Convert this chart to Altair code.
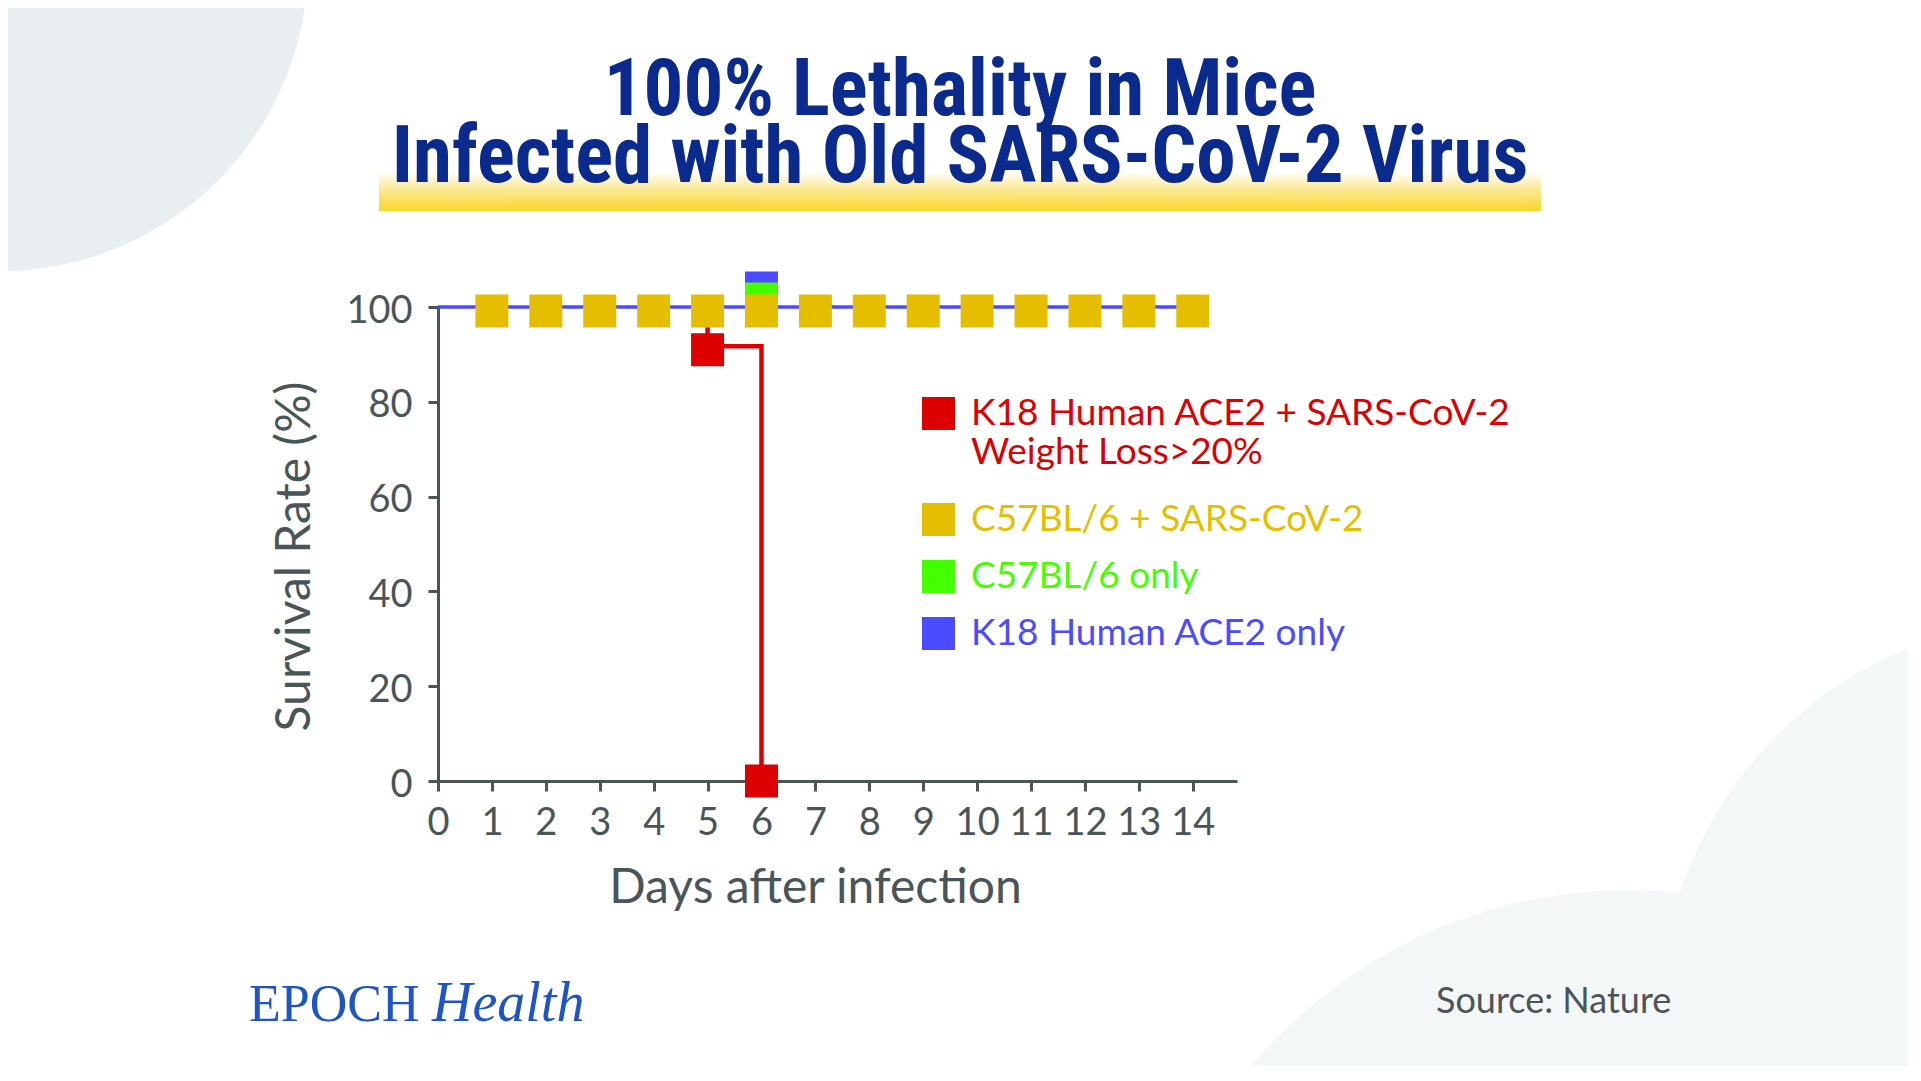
import altair as alt
import pandas as pd

# ---------------- data ----------------
TITLE_LINES = ["100% Lethality in Mice", "Infected with Old SARS-CoV-2 Virus"]
X_TITLE = "Days after infection"
Y_TITLE = "Survival Rate (%)"
SOURCE = "Source: Nature"
BRAND = ["EPOCH", "Health"]

RED_NAME_LINES = ["K18 Human ACE2 + SARS-CoV-2", "Weight Loss>20%"]
SERIES = [" ".join(RED_NAME_LINES), "C57BL/6 + SARS-CoV-2", "C57BL/6 only", "K18 Human ACE2 only"]
COLORS = ["#DC0000", "#E6BE00", "#44FF00", "#4B4BFF"]

X_TICKS = list(range(0, 15))
Y_TICKS = [0, 20, 40, 60, 80, 100]

# C57BL/6 + SARS-CoV-2 (survival markers)
YEL_DAYS = [1, 2, 3, 4, 5, 6, 7, 8, 9, 10, 11, 12, 13, 14]
YEL_VALS = [100, 100, 100, 100, 100, 100, 100, 100, 100, 100, 100, 100, 100, 100]
# K18 Human ACE2 + SARS-CoV-2
RED_DAYS = [5, 6]
RED_VALS = [91, 0]
RED_STEP_DAYS = [5, 5, 6, 6]
RED_STEP_VALS = [100, 91.7, 91.7, 0]
# C57BL/6 only
GREEN_DAYS = [6]
GREEN_VALS = [100]
# K18 Human ACE2 only
BLUE_DAYS = [6]
BLUE_VALS = [100]
BLUE_LINE_DAYS = [0, 14]
BLUE_LINE_VALS = [100, 100]

# ---------------- styles ----------------
AXIS_COLOR = "#4A5558"
NAVY = "#0B2A8E"
FONT = "Lato"
W, H = 799, 474

xs = alt.Scale(domain=[0, 14.82], nice=False, zero=False)
ys = alt.Scale(domain=[0, 100], nice=False)

legend_common = dict(
    title=None, orient="none", symbolType="square", symbolSize=1089, symbolStrokeWidth=0,
    symbolOpacity=1, labelFont=FONT, labelFontSize=37, labelOffset=14, rowPadding=19,
    labelLimit=1000,
)
label_expr = ("datum.value == '%s' ? ['%s', '%s'] : datum.label"
              % (SERIES[0], RED_NAME_LINES[0], RED_NAME_LINES[1]))
legend_a = alt.Legend(legendX=482, legendY=88, labelExpr=label_expr, labelColor=COLORS[0], **legend_common)
color_expr = " : ".join("datum.value == '%s' ? '%s'" % (s, c) for s, c in zip(SERIES[1:], COLORS[1:])) + " : '%s'" % AXIS_COLOR
legend_b = alt.Legend(legendX=482, legendY=194, labelColor={"expr": color_expr}, **legend_common)

fill_red = alt.Fill("series:N", scale=alt.Scale(domain=SERIES[:1], range=COLORS[:1]), legend=legend_a)
color_rest = alt.Color("series:N", scale=alt.Scale(domain=SERIES[1:], range=COLORS[1:]), legend=legend_b)

x_enc = alt.X("day:Q", scale=xs, axis=alt.Axis(
    values=X_TICKS, title=X_TITLE, grid=False, labelFont=FONT, labelFontSize=38,
    labelColor=AXIS_COLOR, labelPadding=13, domainColor=AXIS_COLOR, domainWidth=3,
    tickColor=AXIS_COLOR, tickWidth=3, tickSize=10, titleFont=FONT, titleFontSize=48,
    titleFontWeight="normal", titleColor=AXIS_COLOR, titleX=377, titleY=121,
    titleAlign="center", titleBaseline="alphabetic", labelFlush=False))
y_enc = alt.Y("val:Q", scale=ys, axis=alt.Axis(
    values=Y_TICKS, title=Y_TITLE, grid=False, labelFont=FONT, labelFontSize=38,
    labelColor=AXIS_COLOR, labelPadding=16, labelOffset=4, domainColor=AXIS_COLOR, domainWidth=3,
    tickColor=AXIS_COLOR, tickWidth=3, tickSize=10, titleFont=FONT, titleFontSize=48,
    titleFontWeight="normal", titleColor=AXIS_COLOR, titleAngle=270, titleX=-129,
    titleY=249, titleAlign="center", titleBaseline="alphabetic", labelFlush=False))


def df(days, vals, name):
    return pd.DataFrame({"day": days, "val": vals, "series": name})


one = pd.DataFrame({"k": [0]})


def blob(color, diameter, cx, cy):
    return alt.Chart(one).mark_point(shape="circle", filled=True, opacity=1, color=color,
                                     size=diameter * diameter, strokeWidth=0).encode(
        x=alt.value(cx), y=alt.value(cy))


# decorative background blobs (plot-relative pixels)
blob_tl = blob("#E9EEF1", 616, -438, -344)
blob_br1 = blob("#F4F7F8", 988, 1191, 1077)
blob_br2 = blob("#F4F7F8", 796, 1620, 710)

highlight = alt.Chart(one).mark_rect(
    fill=alt.Gradient(gradient="linear", x1=0, x2=0, y1=0, y2=1,
                      stops=[alt.GradientStop(color="#FFFFFF", offset=0),
                             alt.GradientStop(color="#FBEA97", offset=0.45),
                             alt.GradientStop(color="#F8D62A", offset=1)])
).encode(x=alt.value(-59), x2=alt.value(1103), y=alt.value(-136), y2=alt.value(-96))

title_font = "Roboto Condensed, Liberation Sans Narrow, DejaVu Sans Condensed, Roboto"
t1 = alt.Chart(pd.DataFrame({"t": [TITLE_LINES[0]]})).mark_text(
    font=title_font, fontSize=79, fontWeight="bold", color=NAVY, align="center", baseline="alphabetic"
).encode(text="t:N", x=alt.value(522), y=alt.value(-192))
t2 = alt.Chart(pd.DataFrame({"t": [TITLE_LINES[1]]})).mark_text(
    font=title_font, fontSize=79, fontWeight="bold", color=NAVY, align="center", baseline="alphabetic"
).encode(text="t:N", x=alt.value(522), y=alt.value(-125))

brand1 = alt.Chart(pd.DataFrame({"t": [BRAND[0]]})).mark_text(
    font="Liberation Serif", fontSize=52, color="#1D55C6", align="left", baseline="alphabetic"
).encode(text="t:N", x=alt.value(-189), y=alt.value(714))
brand2 = alt.Chart(pd.DataFrame({"t": [BRAND[1]]})).mark_text(
    font="Liberation Serif", fontStyle="italic", fontSize=56, color="#1D55C6", align="left", baseline="alphabetic"
).encode(text="t:N", x=alt.value(-6), y=alt.value(714))
source = alt.Chart(pd.DataFrame({"t": [SOURCE]})).mark_text(
    font=FONT, fontSize=36, color=AXIS_COLOR, align="left", baseline="alphabetic"
).encode(text="t:N", x=alt.value(998), y=alt.value(706))

blue_sq = alt.Chart(df(BLUE_DAYS, BLUE_VALS, SERIES[3])).mark_square(
    size=1089, opacity=1, yOffset=-19).encode(x=x_enc, y=y_enc, color=color_rest)
green_sq = alt.Chart(df(GREEN_DAYS, GREEN_VALS, SERIES[2])).mark_square(
    size=1089, opacity=1, yOffset=-8).encode(x=x_enc, y=y_enc, color=color_rest)

red_step = df(RED_STEP_DAYS, RED_STEP_VALS, SERIES[0])
red_step["i"] = range(len(red_step))
red_line = alt.Chart(red_step).mark_line(strokeWidth=4.5, color=COLORS[0]).encode(
    x=x_enc, y=y_enc, order="i:Q")
blue_line = alt.Chart(df(BLUE_LINE_DAYS, BLUE_LINE_VALS, SERIES[3])).mark_line(
    strokeWidth=3.3, color=COLORS[3]).encode(x=x_enc, y=y_enc)

yel_sq = alt.Chart(df(YEL_DAYS, YEL_VALS, SERIES[1])).mark_square(
    size=1089, opacity=1, yOffset=4).encode(x=x_enc, y=y_enc, color=color_rest)
red_sq = alt.Chart(df(RED_DAYS, RED_VALS, SERIES[0])).mark_square(
    size=1089, opacity=1).encode(x=x_enc, y=y_enc, fill=fill_red)

chart = alt.layer(
    blob_tl, blob_br1, blob_br2, highlight, t1, t2, brand1, brand2, source,
    blue_sq, green_sq, red_line, blue_line, yel_sq, red_sq
).properties(
    width=W, height=H,
    autosize=alt.AutoSizeParams(type="none"),
    padding={"left": 430, "top": 299, "right": 671, "bottom": 285},
    background="#FFFFFF",
).configure_view(strokeWidth=0)

chart.save("out.html", embed_options={"renderer": "svg", "actions": False})
